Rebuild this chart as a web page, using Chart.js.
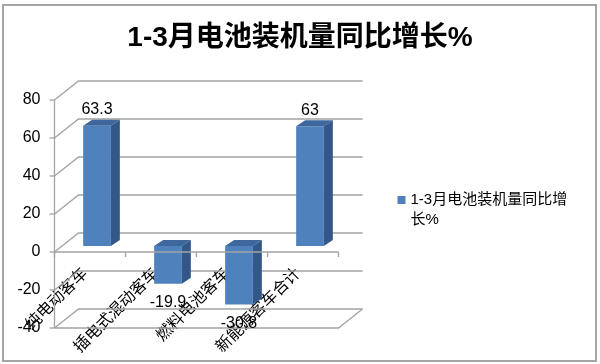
<!DOCTYPE html>
<html>
<head>
<meta charset="utf-8">
<script src="https://cdn.jsdelivr.net/npm/chart.js@4.4.0/dist/chart.umd.min.js"></script>
<style>
  html, body { margin: 0; padding: 0; background: #fff; }
  #wrap { width: 600px; height: 364px; }
</style>
</head>
<body>
<div id="wrap"><canvas id="chart" width="600" height="364"></canvas></div>
<script>
// data
const categories = ['纯电动客车', '插电式混动客车', '燃料电池客车', '新能源客车合计'];
const growthValues = [63.3, -19.9, -30.8, 63];
const yTickValues = [-40, -20, 0, 20, 40, 60, 80];
const seriesLabel = '1-3月电池装机量同比增长%';
const chartTitle = '1-3月电池装机量同比增长%';

const FONT = '"Liberation Sans", "Noto Sans CJK SC", sans-serif';
const CJK = '"Noto Sans CJK SC", sans-serif';
const GRID = '#a3a3a3';

// fake 3D: offsets of the front plane and back wall against the plane the bars sit in
const FRONT = {dx: -7, dy: 6};
const BACK = {dx: 17, dy: -13};
const DEPTH = {dx: 9, dy: 6};

function line(ctx, pts) {
    ctx.beginPath();
    ctx.moveTo(pts[0][0], pts[0][1]);
    for (let i = 1; i < pts.length; i++) ctx.lineTo(pts[i][0], pts[i][1]);
    ctx.stroke();
}

function poly(ctx, pts, color) {
    ctx.beginPath();
    ctx.moveTo(pts[0][0], pts[0][1]);
    for (let i = 1; i < pts.length; i++) ctx.lineTo(pts[i][0], pts[i][1]);
    ctx.closePath();
    ctx.fillStyle = color;
    ctx.fill();
}

const fake3d = {
    id: 'fake3d',
    beforeDraw(chart) {
        const ctx = chart.ctx;
        ctx.save();
        ctx.fillStyle = '#fff';
        ctx.fillRect(0, 0, chart.width, chart.height);
        ctx.strokeStyle = '#a5a5a5';
        ctx.lineWidth = 2;
        ctx.strokeRect(3, 5, chart.width - 7, chart.height - 8);
        ctx.restore();
    },
    // back wall, side wall and floor
    beforeDatasetsDraw(chart) {
        const ctx = chart.ctx;
        const ys = chart.scales.y;
        const {left, right} = chart.chartArea;
        ctx.save();
        ctx.strokeStyle = GRID;
        ctx.lineWidth = 1.3;
        yTickValues.forEach(v => {
            const y = ys.getPixelForValue(v);
            line(ctx, [
                [left + FRONT.dx, y + FRONT.dy],
                [left + BACK.dx, y + BACK.dy],
                [right + BACK.dx, y + BACK.dy],
            ]);
        });
        const yMin = ys.getPixelForValue(yTickValues[0]);
        line(ctx, [
            [left + FRONT.dx, yMin + FRONT.dy],
            [right + FRONT.dx, yMin + FRONT.dy],
            [right + BACK.dx, yMin + BACK.dy],
        ]);
        ctx.restore();
    },
    afterDatasetsDraw(chart) {
        const ctx = chart.ctx;
        const ys = chart.scales.y;
        const {left, right} = chart.chartArea;
        const meta = chart.getDatasetMeta(0);
        ctx.save();

        // top and side faces of the bars
        meta.data.forEach(bar => {
            const x0 = bar.x - bar.width / 2;
            const x1 = bar.x + bar.width / 2;
            const yt = Math.min(bar.y, bar.base);
            const yb = Math.max(bar.y, bar.base);
            poly(ctx, [[x0, yt], [x0 + DEPTH.dx, yt - DEPTH.dy], [x1 + DEPTH.dx, yt - DEPTH.dy], [x1, yt]], '#3d679d');
            poly(ctx, [[x1, yt], [x1 + DEPTH.dx, yt - DEPTH.dy], [x1 + DEPTH.dx, yb - DEPTH.dy], [x1, yb]], '#34578a');
        });

        // front axes
        ctx.strokeStyle = GRID;
        ctx.lineWidth = 1.3;
        const y0 = ys.getPixelForValue(0) + FRONT.dy;
        line(ctx, [[left + FRONT.dx, y0], [right + FRONT.dx, y0]]);
        const step = (right - left) / categories.length;
        for (let i = 0; i <= categories.length; i++) {
            const x = left + i * step + FRONT.dx;
            line(ctx, [[x, y0], [x, y0 + 5]]);
        }
        const ax = left + FRONT.dx;
        line(ctx, [
            [ax, ys.getPixelForValue(yTickValues[yTickValues.length - 1]) + FRONT.dy],
            [ax, ys.getPixelForValue(yTickValues[0]) + FRONT.dy],
        ]);
        yTickValues.forEach(v => {
            const y = ys.getPixelForValue(v) + FRONT.dy;
            line(ctx, [[ax - 5, y], [ax, y]]);
        });

        // value labels
        ctx.fillStyle = '#000';
        ctx.font = '16px ' + FONT;
        ctx.textAlign = 'center';
        ctx.textBaseline = 'middle';
        meta.data.forEach((bar, i) => {
            const v = growthValues[i];
            const ty = v >= 0 ? bar.y - 16 : bar.y + 19;
            ctx.fillText(String(v), bar.x, ty);
        });

        // legend, wrapped like the original
        const lx = right + 52;
        const mid = (chart.chartArea.top + chart.chartArea.bottom) / 2;
        ctx.font = '15px ' + FONT;
        ctx.textAlign = 'left';
        const lines = [];
        let cur = '';
        for (const ch of seriesLabel) {
            if (ctx.measureText(cur + ch).width > 170 && cur) {
                lines.push(cur);
                cur = ch;
            } else {
                cur += ch;
            }
        }
        lines.push(cur);
        ctx.fillStyle = '#4f81bd';
        ctx.fillRect(lx, mid - 12, 8, 8);
        ctx.fillStyle = '#000';
        lines.forEach((t, i) => ctx.fillText(t, lx + 13, mid - 8 + i * 20));
        ctx.restore();
    }
};

new Chart(document.getElementById('chart'), {
    type: 'bar',
    data: {
        labels: categories,
        datasets: [{
            label: seriesLabel,
            data: growthValues,
            backgroundColor: '#4f81bd',
            borderWidth: 0,
            barPercentage: 0.39,
            categoryPercentage: 1,
        }],
    },
    options: {
        responsive: false,
        animation: false,
        layout: {padding: {top: 0, left: 0, right: 0, bottom: 42}},
        plugins: {
            legend: {display: false},
            tooltip: {enabled: false},
            title: {
                display: true,
                text: chartTitle,
                color: '#000',
                font: {family: FONT, size: 28, weight: 'bold'},
                padding: {top: 21, bottom: 39.4},
            },
        },
        scales: {
            x: {
                position: {y: 0},
                grid: {display: false, drawTicks: false},
                border: {display: false},
                ticks: {
                    autoSkip: false,
                    minRotation: 45,
                    maxRotation: 45,
                    padding: 17,
                    labelOffset: -13,
                    color: '#000',
                    font: {family: CJK, size: 16},
                },
            },
            y: {
                min: -40,
                max: 80,
                afterBuildTicks: s => { s.ticks = yTickValues.map(v => ({value: v})); },
                afterFit: s => { s.width = 61.5; },
                grid: {display: false, drawTicks: false},
                border: {display: false},
                ticks: {
                    padding: 21,
                    labelOffset: 6,
                    color: '#000',
                    font: {family: FONT, size: 16},
                },
            },
            // empty right-hand column that holds the legend
            y2: {
                position: 'right',
                display: true,
                grid: {display: false, drawTicks: false},
                border: {display: false},
                ticks: {display: false},
                afterFit: s => { s.width = 254.5; },
            },
        },
    },
    plugins: [fake3d],
});
</script>
</body>
</html>
